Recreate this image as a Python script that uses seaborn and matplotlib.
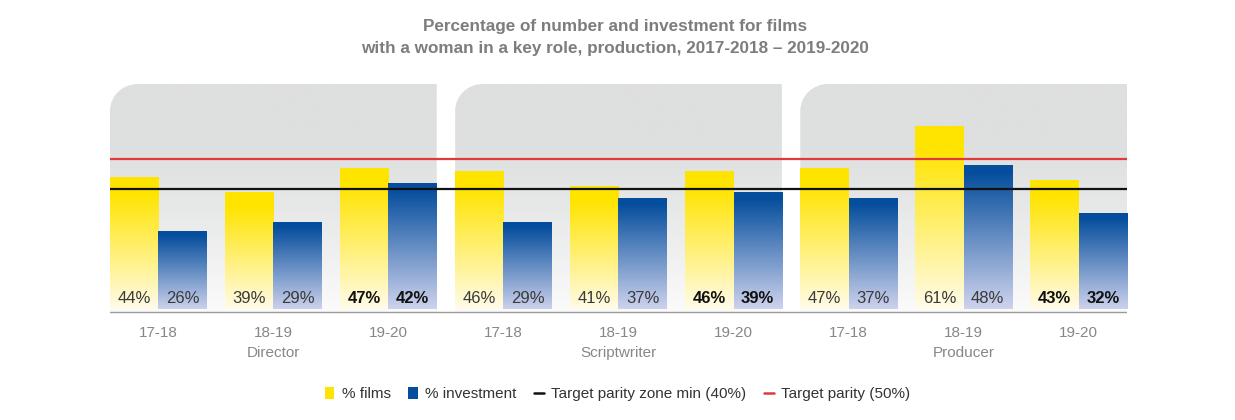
import numpy as np
import pandas as pd
import matplotlib
matplotlib.use("Agg")
import matplotlib.pyplot as plt
import matplotlib.transforms as mtransforms
from matplotlib.path import Path
from matplotlib.patches import PathPatch, Patch
from matplotlib.lines import Line2D
from matplotlib.colors import to_rgb
import seaborn as sns

# ---- data ----
periods = ["17-18", "18-19", "19-20"] * 3
roles = ["Director", "Scriptwriter", "Producer"]
films = [44, 39, 47, 46, 41, 46, 47, 61, 43]
investment = [26, 29, 42, 29, 37, 39, 37, 48, 32]
parity_min = 40
parity = 50
title_lines = ["Percentage of number and investment for films",
               "with a woman in a key role, production, 2017-2018 \u2013 2019-2020"]
series_names = ["% films", "% investment"]

sns.set_theme(style="white")
plt.rcParams["font.family"] = ["Liberation Sans", "DejaVu Sans"]

groups = [f"{roles[i // 3]} {periods[i]}" for i in range(9)]
df = pd.DataFrame({
    "group": groups * 2,
    "metric": [series_names[0]] * 9 + [series_names[1]] * 9,
    "value": films + investment,
})

YEL_TOP, YEL_BOT = "#ffe400", "#fffcee"
BLU_TOP, BLU_BOT = "#054e9d", "#d3d6ef"

fig = plt.figure(figsize=(12.35, 4.2), dpi=100)
ax = fig.add_axes([110 / 1235, (420 - 313.5) / 420, (1127 - 110) / 1235, (313.5 - 84) / 420])

sns.barplot(data=df, x="group", y="value", hue="metric", order=groups,
            hue_order=series_names, palette=[YEL_TOP, BLU_TOP], width=0.84,
            dodge=True, legend=False, ax=ax, zorder=2)

XL = (-0.42, 8.42)
YL = (-1.5, 75)


def grad(top, bot, n=256, hold=0.12):
    t = np.linspace(0, 1, n)
    t = np.clip((t - hold) / (1 - hold), 0, 1)
    a = np.array(to_rgb(top)); b = np.array(to_rgb(bot))
    return (a[None, :] * (1 - t[:, None]) + b[None, :] * t[:, None])[:, None, :]


# gray panels with rounded top-left corner
for k in range(3):
    x0, x1 = 3 * k - 0.42, 3 * k + 2.42
    y0, y1 = -1.0, 75
    rx, ry = 0.24, 9.0
    c = 0.552
    verts = [(x0, y0), (x0, y1 - ry), (x0, y1 - ry + ry * c), (x0 + rx - rx * c, y1),
             (x0 + rx, y1), (x1, y1), (x1, y0), (x0, y0)]
    codes = [Path.MOVETO, Path.LINETO, Path.CURVE4, Path.CURVE4, Path.CURVE4,
             Path.LINETO, Path.LINETO, Path.CLOSEPOLY]
    pp = PathPatch(Path(verts, codes), facecolor="none", edgecolor="none")
    ax.add_patch(pp)
    t = np.linspace(0, 1, 256)
    a = np.array(to_rgb("#dedfdf")); b = np.array(to_rgb("#fbfbfb"))
    t2 = np.clip((t - 0.25) / 0.75, 0, 1) ** 1.2
    g = (a[None, :] * (1 - t2[:, None]) + b[None, :] * t2[:, None])[:, None, :]
    im = ax.imshow(g, extent=[x0, x1, y0, y1], aspect="auto", zorder=0.5,
                   interpolation="bilinear")
    im.set_clip_path(pp)

# gradient bars
for i, p in enumerate(ax.patches[:18]):
    x, y, w, h = p.get_x(), p.get_y(), p.get_width(), p.get_height()
    if h <= 0:
        continue
    top, bot = (YEL_TOP, YEL_BOT) if i < 9 else (BLU_TOP, BLU_BOT)
    p.set_facecolor("none"); p.set_edgecolor("none")
    im = ax.imshow(grad(top, bot, hold=0.12 if i < 9 else 0.05),
                   extent=[x, x + w, -1.0, y + h], aspect="auto",
                   zorder=2, interpolation="bilinear")
    im.set_clip_path(p)

# value labels
for i, p in enumerate(ax.patches[:18]):
    val = (films + investment)[i]
    bold = periods[i % 9] == "19-20"
    ax.text(p.get_x() + p.get_width() / 2, 3.6, f"{val}%", ha="center", va="center",
            fontsize=12, color="#111111" if bold else "#3a3a3a",
            fontweight="bold" if bold else "normal", zorder=4)

# target lines
ax.axhline(parity, color="#e03a3a", lw=1.6, zorder=3)
ax.axhline(parity_min, color="#111111", lw=1.6, zorder=3)
ax.axhline(-1.1, color="#9a9a9a", lw=1.0, zorder=3)

ax.set_xlim(*XL)
ax.set_ylim(*YL)
for s in ax.spines.values():
    s.set_visible(False)
ax.set_yticks([])
ax.set_xticks(range(9))
ax.set_xticklabels(periods, fontsize=11, color="#878787")
ax.tick_params(axis="x", length=0, pad=9)
ax.set_xlabel(""); ax.set_ylabel("")

trans = mtransforms.blended_transform_factory(ax.transData, ax.transAxes)
for k, r in enumerate(roles):
    ax.text(3 * k + 1, -0.17, r, transform=trans, ha="center", va="center",
            fontsize=11, color="#878787")

fig.text(0.498, 1 - 27 / 420, title_lines[0], ha="center", va="center",
         fontsize=12.3, fontweight="bold", color="#7d7d7d")
fig.text(0.498, 1 - 49 / 420, title_lines[1], ha="center", va="center",
         fontsize=12.3, fontweight="bold", color="#7d7d7d")

handles = [Patch(facecolor="#ffe400", edgecolor="none"),
           Patch(facecolor="#054e9d", edgecolor="none"),
           Line2D([], [], color="#111111", lw=1.8),
           Line2D([], [], color="#e03a3a", lw=1.8)]
labels = series_names + ["Target parity zone min (40%)", "Target parity (50%)"]
fig.legend(handles, labels, loc="center", bbox_to_anchor=(0.5, 1 - 394 / 420),
           ncol=4, frameon=False, fontsize=11, handlelength=0.62, handleheight=0.9,
           handletextpad=0.5, columnspacing=1.15, labelcolor="#333333")

fig.savefig("out.png", dpi=100)
